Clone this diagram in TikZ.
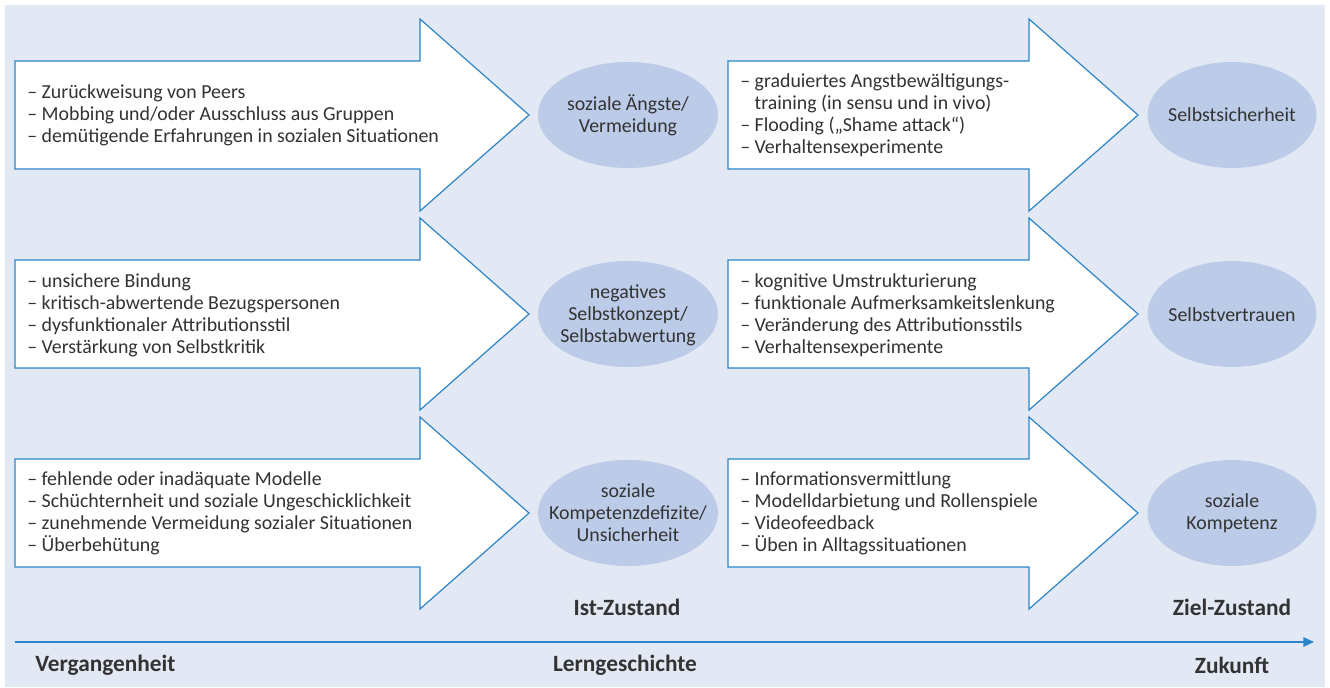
\documentclass[tikz,border=0pt]{standalone}
\usepackage{fontspec}
\setmainfont{Carlito}
\usepackage{xcolor}
\usetikzlibrary{arrows.meta}

\definecolor{grund}{HTML}{E2E8F4}
\definecolor{blase}{HTML}{BCCCE8}
\definecolor{rand}{HTML}{2C85C8}
\definecolor{schrift}{HTML}{333333}

\newcommand{\einzug}{\phantom{– }}

\begin{document}
\begin{tikzpicture}[
  x=0.75pt, y=-0.75pt,
  every node/.style={text=schrift, font=\fontsize{14.9}{16.5}\selectfont},
  liste/.style={anchor=west, align=left, inner sep=0pt},
  zustand/.style={align=center, inner sep=0pt},
  pfeil/.style={draw=rand, fill=white, line width=0.9pt, line join=miter},
  zeit/.style={font=\bfseries\fontsize{17.5}{20}\selectfont}
]
  \useasboundingbox (0,0) rectangle (1330,688);
  \fill[grund] (5,5) rectangle (1325,687);

  % Pfeile und Ellipsen
  \foreach \y in {115,314,513} {
    \draw[pfeil] (15,\y-54) -- (420,\y-54) -- (420,\y-96) -- (529,\y)
      -- (420,\y+96) -- (420,\y+54) -- (15,\y+54) -- cycle;
    \draw[pfeil] (728,\y-54) -- (1029,\y-54) -- (1029,\y-96) -- (1138,\y)
      -- (1029,\y+96) -- (1029,\y+54) -- (728,\y+54) -- cycle;
    \fill[blase] (628,\y) ellipse [x radius=90, y radius=53];
    \fill[blase] (1232,\y) ellipse [x radius=84.5, y radius=53];
  }

  % Ursachen
  \node[liste] (ursache1) at (27,115) {– Zurückweisung von Peers\\
    – Mobbing und/oder Ausschluss aus Gruppen\\
    – demütigende Erfahrungen in sozialen Situationen};
  \node[liste] (ursache2) at (27,315) {– unsichere Bindung\\
    – kritisch-abwertende Bezugspersonen\\
    – dysfunktionaler Attributionsstil\\
    – Verstärkung von Selbstkritik};
  \node[liste] (ursache3) at (27,513) {– fehlende oder inadäquate Modelle\\
    – Schüchternheit und soziale Ungeschicklichkeit\\
    – zunehmende Vermeidung sozialer Situationen\\
    – Überbehütung};

  % Ist-Zustand
  \node[zustand] (ist1) at (628,115) {soziale Ängste/\\Vermeidung};
  \node[zustand] (ist2) at (628,315) {negatives\\Selbstkonzept/\\Selbstabwertung};
  \node[zustand] (ist3) at (628,513) {soziale\\Kompetenzdefizite/\\Unsicherheit};

  % Interventionen
  \node[liste] (hilfe1) at (740,115) {– graduiertes Angstbewältigungs-\\
    \einzug training (in sensu und in vivo)\\
    – Flooding („Shame attack“)\\
    – Verhaltensexperimente};
  \node[liste] (hilfe2) at (740,315) {– kognitive Umstrukturierung\\
    – funktionale Aufmerksamkeitslenkung\\
    – Veränderung des Attributionsstils\\
    – Verhaltensexperimente};
  \node[liste] (hilfe3) at (740,513) {– Informationsvermittlung\\
    – Modelldarbietung und Rollenspiele\\
    – Videofeedback\\
    – Üben in Alltagssituationen};

  % Ziel-Zustand
  \node[zustand] (ziel1) at (1232,115) {Selbstsicherheit};
  \node[zustand] (ziel2) at (1232,315) {Selbstvertrauen};
  \node[zustand] (ziel3) at (1232,513) {soziale\\Kompetenz};

  % Zeitachse
  \node[zeit] (ist) at (627,607) {Ist-Zustand};
  \node[zeit] (ziel) at (1232,607) {Ziel-Zustand};
  \coordinate (start) at (15,642);
  \coordinate (ende) at (1314,642);
  \draw[rand, line width=1.5pt, -{Triangle[length=8pt, width=7pt]}] (start) -- (ende);
  \node[zeit, anchor=west, inner sep=0pt] (vergangen) at (35,665) {Vergangenheit};
  \node[zeit] (lern) at (625,665) {Lerngeschichte};
  \node[zeit] (zukunft) at (1232,665) {Zukunft};
\end{tikzpicture}
\end{document}
